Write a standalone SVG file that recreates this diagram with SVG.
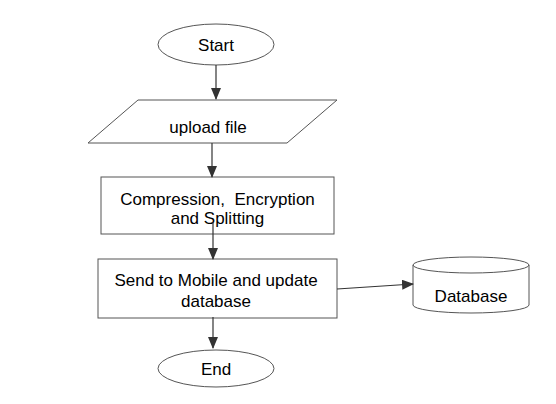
<svg xmlns="http://www.w3.org/2000/svg" width="556" height="404" viewBox="0 0 556 404">
<defs>
<marker id="ah" markerWidth="12" markerHeight="10" refX="11" refY="5" orient="auto" markerUnits="userSpaceOnUse">
<path d="M0,0 L12,5 L0,10 Z" fill="#333"/>
</marker>
</defs>
<style>
.shape{fill:#fff;stroke:#555;stroke-width:1}
.lbl{font-family:"Liberation Sans",Arial,sans-serif;font-size:17px;fill:#000;text-anchor:middle;white-space:pre}
.conn{stroke:#333;stroke-width:1.2;fill:none;marker-end:url(#ah)}
</style>
<rect width="556" height="404" fill="#fff"/>
<g id="start">
<ellipse class="shape" cx="216" cy="44.5" rx="58" ry="20.5"/>
<text class="lbl" x="216" y="50.5">Start</text>
</g>
<g id="upload">
<polygon class="shape" points="138,100 337,100 287,143 88,143"/>
<text class="lbl" x="208" y="133">upload file</text>
</g>
<g id="compress">
<rect class="shape" x="101" y="177" width="233" height="57"/>
<text class="lbl" x="217.5" y="204.5">Compression,  Encryption</text>
<text class="lbl" x="217.5" y="224">and Splitting</text>
</g>
<g id="send">
<rect class="shape" x="98" y="259" width="239" height="59"/>
<text class="lbl" x="216" y="285.5">Send to Mobile and update</text>
<text class="lbl" x="216" y="307">database</text>
</g>
<g id="end">
<ellipse class="shape" cx="216" cy="368.5" rx="58" ry="18.5"/>
<text class="lbl" x="216" y="374.5">End</text>
</g>
<g id="database">
<path class="shape" d="M413,265 L413,305 A58,8 0 0 0 529,305 L529,265 A58,8 0 0 0 413,265 Z"/>
<path class="shape" style="fill:none" d="M413,265 A58,8 0 0 0 529,265"/>
<text class="lbl" x="471" y="302">Database</text>
</g>
<g id="connectors">
<line class="conn" x1="216" y1="65" x2="216" y2="99"/>
<line class="conn" x1="212" y1="143" x2="212" y2="177"/>
<line class="conn" x1="213" y1="222" x2="213" y2="259"/>
<line class="conn" x1="213" y1="317" x2="213" y2="348"/>
<line class="conn" x1="337" y1="289" x2="413" y2="284"/>
</g>
</svg>
